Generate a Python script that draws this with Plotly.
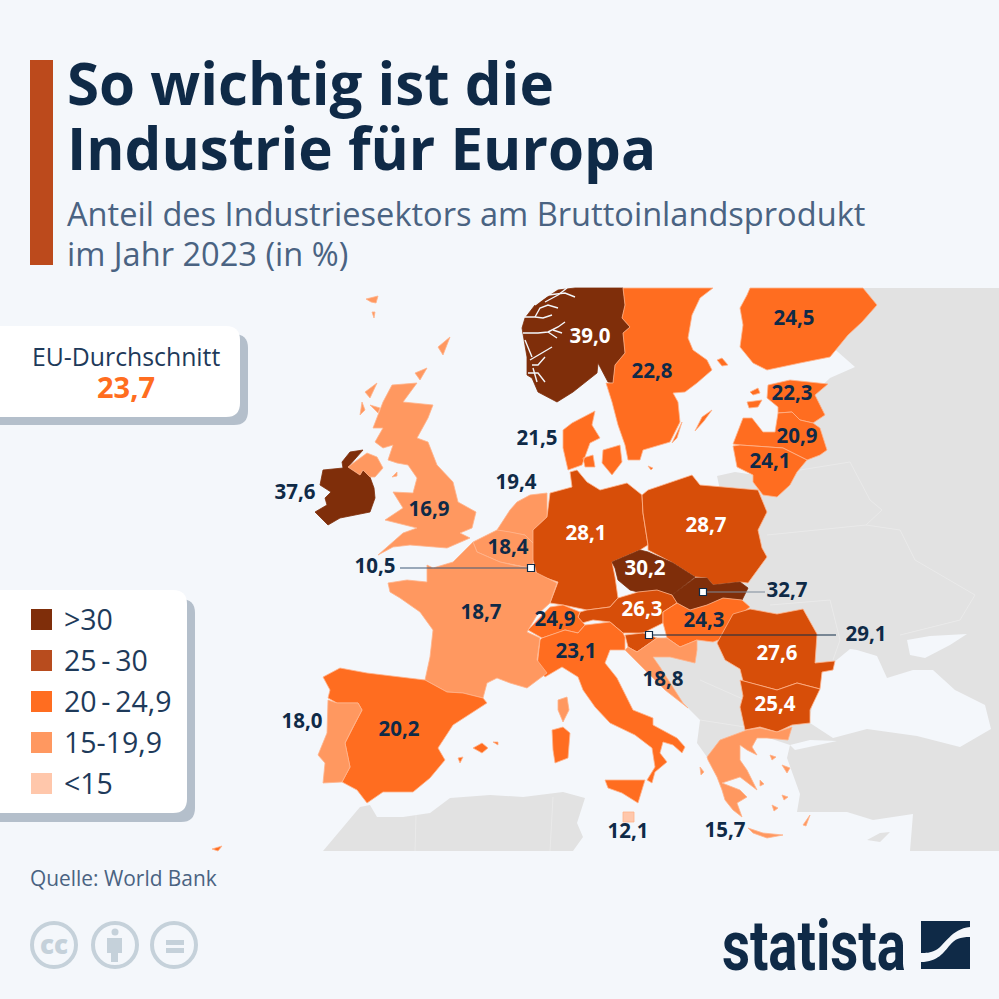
import plotly.graph_objects as go

BG = '#F4F7FB'
NAVY = '#0F2A47'
SLATE = '#4A6382'
GREY_LAND = '#E2E2E2'
ICON_GREY = '#C5D1DA'
FONT = 'Open Sans'

COUNTRIES = ['Norwegen', 'Schweden', 'Finnland', 'Estland', 'Lettland', 'Litauen', 'Dänemark', 'Niederlande',
             'Belgien', 'Luxemburg', 'Irland', 'Großbritannien', 'Deutschland', 'Polen', 'Tschechien', 'Slowakei',
             'Österreich', 'Ungarn', 'Slowenien', 'Schweiz', 'Italien', 'Kroatien', 'Rumänien', 'Bulgarien',
             'Frankreich', 'Spanien', 'Portugal', 'Malta', 'Griechenland']
VALUES = [39.0, 22.8, 24.5, 22.3, 20.9, 24.1, 21.5, 19.4,
          18.4, 10.5, 37.6, 16.9, 28.1, 28.7, 30.2, 32.7,
          26.3, 24.3, 29.1, 24.9, 23.1, 18.8, 27.6, 25.4,
          18.7, 20.2, 18.0, 12.1, 15.7]
LABEL_X = [590, 652, 794, 792, 797, 770, 537, 516,
           508, 375, 295, 429, 586, 706, 645, 787,
           642, 704, 866, 555, 576, 663, 777, 775,
           481, 399, 302, 628, 725]
LABEL_Y = [338, 373, 320, 395, 438, 463, 440, 484,
           549, 568, 494, 511, 535, 527, 570, 592,
           611, 622, 636, 621, 653, 681, 655, 706,
           614, 731, 723, 833, 832]

LEGEND_LABELS = ['>30', '25\u2009-\u200930', '20\u2009-\u200924,9', '15-19,9', '<15']
LEGEND_COLORS = ['#7F2E0A', '#B84C1E', '#FF6D20', '#FF9860', '#FFC7AB']

# outlines, one list of parts per country
NORWAY = [[(522, 328), (525, 318), (535, 305), (558, 290), (575, 288), (623, 288), (625, 305), (622, 318), (630, 327),
           (623, 333), (625, 353), (615, 365), (613, 383), (608, 382), (598, 363), (597, 373), (573, 392), (557, 402),
           (538, 392), (532, 378), (527, 375), (527, 357)]]
SWEDEN = [[(623, 288), (713, 288), (700, 298), (692, 315), (688, 338), (693, 350), (707, 360), (712, 370), (697, 383),
           (685, 392), (673, 393), (678, 402), (680, 422), (670, 442), (643, 450), (640, 460), (628, 460), (625, 445),
           (618, 425), (612, 402), (606, 383), (613, 383), (615, 365), (625, 353), (623, 333), (630, 327), (622, 318),
           (625, 305)],
          [(695, 431), (702, 417), (712, 410), (704, 421)],
          [(672, 443), (682, 422), (677, 438)]]
FINLAND = [[(750, 288), (863, 288), (877, 305), (862, 322), (848, 335), (830, 357), (800, 363), (767, 370), (753, 363),
            (740, 347), (743, 325), (740, 308), (747, 295)],
           [(717, 360), (722, 358), (728, 365), (722, 366)]]
ESTONIA = [[(768, 385), (790, 380), (828, 384), (815, 395), (825, 415), (813, 423), (800, 420), (792, 412), (778, 413),
            (778, 407), (767, 398)],
           [(747, 402), (762, 400), (758, 407), (749, 408)],
           [(750, 392), (758, 388), (760, 393), (753, 395)]]
LATVIA = [[(733, 444), (743, 418), (752, 418), (763, 432), (775, 432), (778, 413), (792, 412), (800, 420), (813, 423),
           (820, 428), (827, 450), (820, 455), (807, 460), (783, 448), (740, 445)]]
LITHUANIA = [[(733, 446), (740, 445), (783, 448), (807, 460), (797, 472), (790, 485), (777, 497), (763, 495), (753, 482),
              (753, 475), (737, 467)]]
DENMARK = [[(563, 430), (572, 423), (595, 411), (592, 425), (600, 438), (590, 443), (582, 465), (568, 470), (563, 448)],
           [(603, 450), (620, 445), (622, 462), (612, 475), (602, 463)],
           [(583, 458), (593, 455), (595, 467), (585, 467)],
           [(648, 466), (653, 468), (651, 470)]]
GERMANY = [[(570, 472), (572, 487), (550, 493), (547, 517), (533, 530), (533, 560), (537, 575), (558, 582), (550, 603),
            (563, 605), (587, 610), (610, 607), (618, 598), (615, 577), (612, 562), (640, 550), (648, 545), (643, 513),
            (642, 495), (627, 483), (600, 490), (587, 482), (577, 470)]]
POLAND = [[(648, 490), (692, 475), (700, 485), (758, 490), (767, 512), (758, 530), (762, 548), (767, 557), (748, 583),
           (740, 582), (713, 585), (707, 578), (695, 577), (673, 563), (648, 550), (648, 545), (643, 513), (642, 495)]]
CZECHIA = [[(612, 562), (640, 550), (648, 552), (673, 563), (695, 577), (672, 595), (657, 590), (638, 592), (630, 590),
            (618, 580), (615, 568)]]
SLOVAKIA = [[(695, 578), (707, 578), (713, 585), (740, 582), (748, 588), (742, 600), (723, 598), (707, 605), (690, 610),
             (677, 603), (672, 595)]]
AUSTRIA = [[(618, 598), (638, 592), (657, 590), (672, 595), (677, 603), (663, 612), (663, 623), (643, 633), (623, 633),
            (610, 622), (593, 620), (582, 623), (578, 617), (580, 612), (587, 610), (610, 607)]]
HUNGARY = [[(677, 603), (690, 610), (707, 605), (723, 598), (742, 600), (750, 607), (737, 617), (727, 637), (713, 642),
            (697, 640), (680, 647), (667, 638), (663, 623), (663, 612)]]
SLOVENIA = [[(625, 635), (643, 633), (657, 638), (647, 645), (637, 652), (628, 647)]]
SWITZERLAND = [[(563, 605), (580, 612), (578, 617), (585, 625), (578, 633), (565, 630), (557, 633), (542, 638), (528, 630),
                (540, 617), (550, 607)]]
ITALY = [[(542, 638), (557, 633), (565, 630), (578, 633), (585, 625), (610, 622), (623, 633), (625, 637), (625, 650),
          (610, 650), (605, 663), (617, 678), (633, 710), (653, 718), (653, 725), (677, 738), (685, 747), (682, 753),
          (673, 745), (663, 742), (660, 753), (667, 762), (655, 772), (652, 783), (647, 780), (655, 767), (652, 748),
          (635, 735), (610, 723), (595, 707), (583, 690), (578, 677), (562, 667), (545, 677), (537, 667), (540, 640)],
         [(605, 780), (645, 780), (638, 803), (622, 793), (608, 788)],
         [(552, 730), (563, 727), (570, 733), (568, 758), (555, 763), (553, 750)]]
CROATIA = [[(657, 638), (667, 638), (680, 647), (697, 640), (697, 650), (695, 663), (670, 657), (653, 657), (660, 667),
            (683, 703), (688, 708), (665, 690), (650, 675), (640, 665), (632, 657), (625, 650), (628, 647), (637, 652),
            (647, 645)]]
ROMANIA = [[(717, 643), (733, 614), (750, 609), (777, 614), (803, 609), (817, 634), (815, 663), (835, 661), (833, 670),
            (822, 672), (820, 689), (797, 683), (777, 690), (743, 681), (740, 669), (725, 660)]]
BULGARIA = [[(740, 680), (777, 690), (797, 683), (820, 689), (810, 710), (810, 723), (792, 725), (777, 732), (760, 727),
             (745, 730), (740, 707), (743, 696)]]
FRANCE = [[(388, 583), (407, 580), (427, 582), (427, 565), (433, 568), (453, 562), (473, 542), (477, 552), (500, 562),
           (513, 565), (530, 568), (537, 573), (557, 583), (550, 603), (537, 615), (527, 632), (540, 638), (537, 660),
           (547, 673), (533, 683), (527, 688), (510, 683), (497, 678), (487, 683), (483, 698), (463, 693), (447, 692),
           (425, 680), (430, 657), (433, 630), (420, 612), (400, 598), (390, 592)],
          [(558, 700), (567, 697), (569, 710), (563, 722), (558, 710)]]
SPAIN = [[(323, 677), (340, 668), (367, 673), (397, 677), (425, 680), (447, 692), (463, 693), (483, 698), (487, 703),
          (453, 725), (438, 748), (445, 760), (430, 778), (413, 792), (383, 792), (367, 803), (357, 790), (342, 782),
          (350, 767), (345, 743), (353, 727), (362, 710), (358, 703), (337, 703), (328, 698), (330, 690)],
         [(473, 748), (482, 743), (488, 748), (482, 753)],
         [(493, 742), (498, 742), (498, 745)],
         [(458, 758), (463, 757), (460, 763)],
         [(212, 849), (222, 846), (218, 851)]]
PORTUGAL = [[(328, 700), (337, 703), (358, 703), (362, 710), (353, 727), (345, 743), (350, 767), (342, 782), (323, 783),
             (325, 763), (318, 755), (327, 733)]]
IRELAND = [[(342, 462), (350, 452), (363, 450), (350, 465), (348, 467), (360, 475), (363, 470), (370, 477), (374, 488),
            (375, 498), (370, 512), (355, 515), (340, 518), (328, 525), (315, 512), (327, 505), (325, 498), (331, 492),
            (320, 485), (323, 470), (343, 468)]]
BRITAIN = [[(392, 385), (417, 383), (403, 402), (433, 405), (428, 418), (417, 438), (428, 442), (437, 465), (453, 482),
            (458, 502), (476, 512), (472, 528), (460, 533), (470, 538), (447, 548), (410, 545), (393, 547), (378, 555),
            (403, 533), (417, 528), (385, 520), (403, 508), (393, 492), (413, 493), (417, 478), (408, 465), (397, 463),
            (388, 460), (393, 445), (383, 448), (375, 442), (383, 428), (373, 428), (383, 402)],
           [(348, 467), (367, 453), (377, 457), (383, 468), (375, 477), (370, 477), (363, 470), (360, 475)],
           [(365, 392), (377, 383), (370, 398)], [(360, 415), (362, 402), (365, 410)],
           [(370, 405), (380, 408), (378, 413)], [(392, 477), (397, 472), (397, 476)],
           [(415, 373), (427, 368), (420, 380)], [(438, 347), (450, 337), (443, 355)],
           [(366, 299), (378, 296), (376, 303), (371, 302)], [(372, 312), (375, 312), (374, 318)]]
NETHERLANDS = [[(497, 530), (510, 510), (517, 502), (530, 495), (547, 493), (547, 517), (533, 530), (535, 545), (525, 535),
                (510, 532)]]
BELGIUM = [[(473, 542), (497, 530), (510, 532), (525, 535), (535, 545), (535, 560), (530, 568), (513, 565), (500, 562),
            (477, 552)]]
LUXEMBOURG = [[(530, 566), (535, 568), (537, 573), (532, 576)]]
MALTA = [[(623, 812), (634, 812), (634, 822), (623, 822)]]
GREECE = [[(707, 757), (720, 740), (747, 730), (760, 728), (777, 732), (792, 727), (788, 740), (767, 738), (757, 738),
           (752, 747), (757, 755), (747, 750), (740, 745), (740, 760), (747, 770), (757, 790), (740, 777), (722, 783),
           (740, 790), (747, 797), (737, 803), (742, 817), (733, 810), (725, 800), (722, 790), (717, 777), (708, 760)],
          [(748, 828), (763, 833), (783, 835), (767, 838), (753, 833)],
          [(803, 825), (810, 815), (806, 826)], [(782, 765), (790, 768), (787, 773)],
          [(770, 755), (776, 757), (772, 760)], [(782, 795), (788, 797), (784, 800)],
          [(760, 780), (764, 784), (760, 786)], [(772, 805), (778, 808), (774, 811)],
          [(700, 767), (704, 772), (701, 775)]]

OUTLINES = [NORWAY, SWEDEN, FINLAND, ESTONIA, LATVIA, LITHUANIA, DENMARK, NETHERLANDS,
            BELGIUM, LUXEMBOURG, IRELAND, BRITAIN, GERMANY, POLAND, CZECHIA, SLOVAKIA,
            AUSTRIA, HUNGARY, SLOVENIA, SWITZERLAND, ITALY, CROATIA, ROMANIA, BULGARIA,
            FRANCE, SPAIN, PORTUGAL, MALTA, GREECE]

# land without data
LAND_EAST = [(830, 288), (999, 288), (999, 851), (910, 851), (913, 814), (873, 820), (847, 812), (797, 812), (800, 794),
             (787, 758), (790, 745), (760, 735), (707, 757), (697, 743), (700, 720), (683, 703), (660, 667), (653, 657),
             (660, 640), (700, 620), (730, 585), (740, 530), (750, 495), (780, 470), (810, 440), (815, 410), (812, 395),
             (830, 378), (855, 367), (838, 352), (830, 345)]
LAND_KALININGRAD = [(717, 476), (735, 472), (755, 475), (765, 495), (720, 490)]
LAND_AFRICA = [(323, 851), (360, 807), (370, 805), (377, 817), (403, 817), (430, 813), (450, 798), (490, 795), (523, 797),
               (563, 792), (585, 798), (577, 823), (583, 837), (573, 851)]
LAND_CYPRUS = [(867, 840), (880, 833), (890, 832), (880, 842)]
SEA_BLACK = [(810, 718), (817, 678), (833, 663), (850, 649), (857, 650), (877, 656), (887, 678), (913, 670), (933, 670),
             (955, 690), (985, 705), (991, 729), (960, 747), (917, 736), (867, 729), (833, 738), (810, 723)]
SEA_AZOV = [(907, 640), (930, 636), (967, 634), (950, 645), (925, 658), (910, 655)]
SEA_MARMARA = [(790, 745), (810, 740), (837, 741), (815, 746), (795, 750)]
INNER_BORDERS = [[(800, 470), (850, 462), (870, 500), (882, 510), (866, 525), (767, 535)],
                 [(866, 525), (900, 530), (915, 560), (975, 595), (960, 620), (900, 635)],
                 [(770, 605), (830, 600), (840, 640), (833, 660)],
                 [(416, 815), (415, 851)], [(553, 797), (550, 851)],
                 [(700, 680), (745, 700)], [(700, 720), (745, 727)]]

FJORDS = [[(523, 333), (538, 333), (548, 332), (558, 327), (565, 322)], [(548, 332), (557, 338)], [(553, 330), (562, 333)],
          [(525, 317), (535, 317), (543, 318), (552, 315)], [(535, 317), (540, 308), (548, 305), (558, 308)],
          [(535, 305), (548, 295), (565, 293), (575, 297)], [(545, 302), (558, 295), (567, 288)],
          [(525, 340), (532, 357)], [(530, 360), (542, 353), (552, 347)], [(532, 365), (538, 365), (545, 357)],
          [(528, 373), (538, 373), (545, 382)], [(533, 368), (537, 382)]]


def bin_color(value):
    if value > 30:
        return '#7F2E0A'
    if value >= 25:
        return '#D74E09'
    if value >= 20:
        return '#FF6D20'
    if value >= 15:
        return '#FF9860'
    return '#FFC7AB'


def unzip_parts(parts):
    xs, ys = [], []
    for part in parts:
        for x, y in part:
            xs.append(x)
            ys.append(y)
        xs.append(part[0][0])
        ys.append(part[0][1])
        xs.append(None)
        ys.append(None)
    return xs, ys


def area(parts, color, line_color=None, line_width=0):
    xs, ys = unzip_parts(parts)
    return go.Scatter(x=xs, y=ys, mode='lines', fill='toself', fillcolor=color,
                      line=dict(color=line_color or color, width=line_width), hoverinfo='skip')


def rounded_box(x0, y0, x1, y1, r, fill):
    path = (f'M{x0},{y0} L{x1 - r},{y0} Q{x1},{y0} {x1},{y0 + r} L{x1},{y1 - r} Q{x1},{y1} {x1 - r},{y1} '
            f'L{x0},{y1} Z')
    return dict(type='path', path=path, fillcolor=fill, line_width=0, layer='below')


def label(x, y, text, size, color=NAVY, anchor='left', weight=400, family=FONT):
    return dict(x=x, y=y, text=text, showarrow=False, xanchor=anchor, yanchor='middle', xref='x', yref='y',
                font=dict(family=family, size=size, color=color, weight=weight))


fig = go.Figure()

fig.add_trace(area([LAND_EAST, LAND_KALININGRAD, LAND_AFRICA, LAND_CYPRUS], GREY_LAND))
fig.add_trace(area([SEA_BLACK, SEA_AZOV, SEA_MARMARA], BG))
border_x, border_y = [], []
for piece in INNER_BORDERS:
    border_x += [p[0] for p in piece] + [None]
    border_y += [p[1] for p in piece] + [None]
fig.add_trace(go.Scatter(x=border_x, y=border_y, mode='lines', line=dict(color='#EAEAEA', width=1), hoverinfo='skip'))

for outline, value in zip(OUTLINES, VALUES):
    fig.add_trace(area(outline, bin_color(value), line_color='#FFB48C' if value < 30 else bin_color(value), line_width=0.8))

fjord_x, fjord_y = [], []
for piece in FJORDS:
    fjord_x += [p[0] for p in piece] + [None]
    fjord_y += [p[1] for p in piece] + [None]
fig.add_trace(go.Scatter(x=fjord_x, y=fjord_y, mode='lines', line=dict(color=BG, width=1.4), hoverinfo='skip'))

# leader lines to the labels outside the small countries
fig.add_trace(go.Scatter(x=[400, 531], y=[568, 568], mode='lines', line=dict(color='#3F5A78', width=1.2), hoverinfo='skip'))
fig.add_trace(go.Scatter(x=[703, 765], y=[592, 592], mode='lines', line=dict(color='#7D8A99', width=1.2), hoverinfo='skip'))
fig.add_trace(go.Scatter(x=[649, 836], y=[635, 635], mode='lines', line=dict(color=NAVY, width=1.2), hoverinfo='skip'))
fig.add_trace(go.Scatter(x=[531, 703, 649], y=[568, 592, 635], mode='markers', hoverinfo='skip',
                         marker=dict(symbol='square', size=7, color='white', line=dict(color=NAVY, width=1.2))))

# values on the map
DARK_TEXT = {'Norwegen', 'Deutschland', 'Polen', 'Tschechien', 'Österreich', 'Rumänien', 'Bulgarien'}
label_colors = ['white' if c in DARK_TEXT else NAVY for c in COUNTRIES]
fig.add_trace(go.Scatter(x=LABEL_X, y=LABEL_Y, mode='text', text=[f'{v:.1f}'.replace('.', ',') for v in VALUES],
                         textposition='middle center', hoverinfo='skip',
                         textfont=dict(family=FONT, size=20.5, color=label_colors, weight=700)))

shapes = [
    dict(type='rect', x0=30, x1=53, y0=60, y1=265, fillcolor='#BC4A1C', line_width=0, layer='below'),
    rounded_box(0, 334, 248, 425, 14, '#B4BFCB'),
    rounded_box(0, 326, 240, 417, 14, 'white'),
    rounded_box(0, 599, 195, 822, 14, '#B4BFCB'),
    rounded_box(0, 590, 187, 813, 14, 'white'),
]
annotations = [
    label(64.5, 82, 'So wichtig ist die', 58.3, NAVY, weight=700),
    label(64.5, 147, 'Industrie für Europa', 58.3, NAVY, weight=700),
    label(65, 213, 'Anteil des Industriesektors am Bruttoinlandsprodukt', 32.6, SLATE),
    label(65, 253, 'im Jahr 2023 (in %)', 32.6, SLATE),
    label(126, 356, 'EU-Durchschnitt', 24.8, '#1E3A5A', 'center'),
    label(126, 386, '23,7', 29, '#FF6D20', 'center', 700),
    label(28, 878, 'Quelle: World Bank', 20.9, SLATE),
    label(813.5, 945, 'statista', 71, NAVY, 'center', 700, 'Roboto'),
    label(54, 944, 'cc', 26, ICON_GREY, 'center', 800),
]

# legend
for i, (name, color) in enumerate(zip(LEGEND_LABELS, LEGEND_COLORS)):
    top = 609 + i * 41
    shapes.append(dict(type='rect', x0=31, x1=52, y0=top, y1=top + 21, fillcolor=color, line_width=0))
    annotations.append(label(62, top + 10, name, 28.5, '#1E3A5A'))

# licence icons
for cx in [54, 115, 174]:
    shapes.append(dict(type='circle', x0=cx - 22, x1=cx + 22, y0=923, y1=967, fillcolor='rgba(0,0,0,0)',
                       line=dict(color=ICON_GREY, width=4)))
shapes += [
    dict(type='circle', x0=111.5, x1=118.5, y0=928.5, y1=935.5, fillcolor=ICON_GREY, line_width=0),
    dict(type='rect', x0=107, x1=122, y0=938, y1=953, fillcolor=ICON_GREY, line_width=0),
    dict(type='rect', x0=111, x1=118, y0=953, y1=962, fillcolor=ICON_GREY, line_width=0),
    dict(type='rect', x0=166, x1=184, y0=940, y1=945, fillcolor=ICON_GREY, line_width=0),
    dict(type='rect', x0=166, x1=184, y0=948, y1=953, fillcolor=ICON_GREY, line_width=0),
]

# statista mark
shapes += [
    dict(type='rect', x0=921, x1=970, y0=921, y1=969, fillcolor=NAVY, line_width=0),
    dict(type='path', path='M970,927 C951,929 945,945 936,950 C930,953 926,953 921,953 L921,962 '
                           'C938,962 944,952 950,945 C955,939 960,937 970,937 Z', fillcolor=BG, line_width=0),
]

fig.update_layout(
    width=999, height=999, margin=dict(l=0, r=0, t=0, b=0),
    paper_bgcolor=BG, plot_bgcolor=BG, showlegend=False,
    xaxis=dict(range=[0, 999], visible=False, fixedrange=True),
    yaxis=dict(range=[999, 0], visible=False, fixedrange=True),
    shapes=shapes, annotations=annotations,
)

# squeeze the logo word to its condensed width
squeeze_logo = """
document.body.style.margin='0';document.body.style.overflow='hidden';
document.querySelectorAll('.annotation-text').forEach(function (t) {
  if (t.textContent === 'statista') {
    t.setAttribute('textLength', '184');
    t.setAttribute('lengthAdjust', 'spacingAndGlyphs');
  }
});
"""
fig.write_html("out.html", config={'displayModeBar': False}, post_script=squeeze_logo)
